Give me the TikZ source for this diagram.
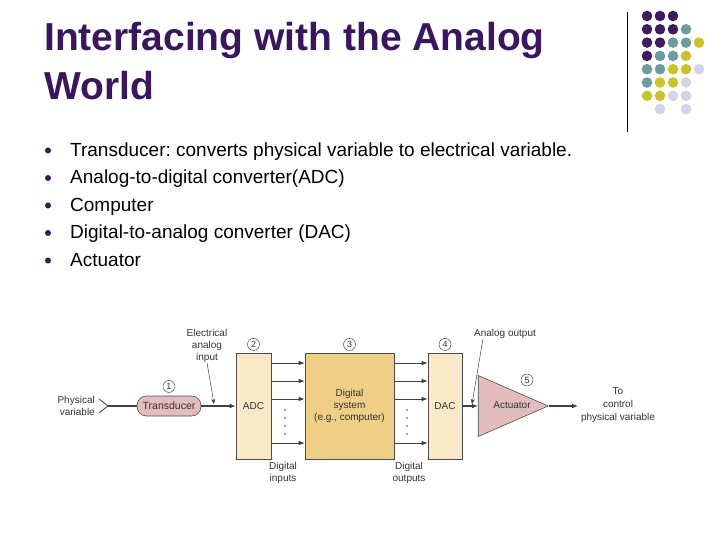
\documentclass[tikz,border=0pt]{standalone}
\usepackage{fontspec}
\setmainfont{Liberation Sans}
\usetikzlibrary{positioning, arrows.meta, shapes.geometric}
\frenchspacing

\definecolor{titlepurple}{HTML}{3A175C}
\definecolor{pinkfill}{HTML}{E3BDBD}
\definecolor{sysfill}{HTML}{EFCF86}
\definecolor{convfill}{HTML}{F8E9C9}
\definecolor{dotP}{HTML}{3F1B5F}
\definecolor{dotT}{HTML}{6E9B9E}
\definecolor{dotY}{HTML}{C8C52B}
\definecolor{dotL}{HTML}{D4D4E8}

\begin{document}
\begin{tikzpicture}[x=1pt, y=-1pt, node distance=2pt,
	title/.style={font=\fontsize{39}{39}\selectfont\bfseries, text=titlepurple, anchor=base west, inner sep=0pt},
	item/.style={font=\fontsize{19}{19}\selectfont, anchor=base west, inner sep=0pt},
	dtext/.style={font=\fontsize{10}{11.7}\selectfont, text=black!80, align=center, inner sep=0pt},
	box/.style={draw=black!70, line width=0.6pt, inner sep=0pt, minimum height=106pt, font=\fontsize{10}{12}\selectfont, text=black!80, align=center},
	pill/.style={draw=black!70, line width=0.6pt, fill=pinkfill, rounded corners=9.5pt, minimum width=64pt, minimum height=20pt, inner sep=0pt, font=\fontsize{10.5}{11}\selectfont, text=black!80},
	num/.style={circle, draw=black!70, line width=0.5pt, minimum size=12pt, inner sep=0pt, font=\fontsize{9}{9}\selectfont, text=black!80},
	sig/.style={line width=1.3pt, draw=black!75, -{Latex[length=6pt, width=5pt]}},
	bus/.style={line width=0.8pt, draw=black!75, -{Latex[length=6pt, width=4.5pt]}},
	note/.style={line width=0.5pt, draw=black!75, -{Stealth[length=5pt, width=4pt]}}
]
	\useasboundingbox (0,0) rectangle (720,540);

	% title and bullets
	\node[title] (title1) at (44,51) {Interfacing with the Analog};
	\node[title] (title2) at (44,100) {World};
	\foreach \txt [count=\i] in {Transducer: converts physical variable to electrical variable.,
		Analog-to-digital converter(ADC), Computer, Digital-to-analog converter (DAC), Actuator} {
		\node[item] (item\i) at (70,129+27.5*\i) {\txt};
		\fill[titlepurple] (48,123+27.5*\i) circle (3);
	}

	% corner decoration
	\draw[line width=0.8pt] (627,12) -- (627,132);
	\foreach \c/\r/\col in {0/0/dotP,1/0/dotP,2/0/dotP,
		0/1/dotP,1/1/dotP,2/1/dotP,3/1/dotT,
		0/2/dotP,1/2/dotP,2/2/dotT,3/2/dotT,4/2/dotY,
		0/3/dotP,1/3/dotT,2/3/dotT,3/3/dotY,
		0/4/dotT,1/4/dotT,2/4/dotY,3/4/dotY,4/4/dotL,
		0/5/dotT,1/5/dotY,2/5/dotY,3/5/dotL,
		0/6/dotY,1/6/dotY,2/6/dotL,3/6/dotL,
		1/7/dotL,3/7/dotL}
		\fill[\col] (647+13*\c,16+13.3*\r) circle (5.3);

	% blocks
	\node[pill] (trans) at (169,406) {Transducer};
	\node[box, fill=convfill, minimum width=35pt] (adc) at (253.5,406) {ADC};
	\node[box, fill=sysfill, minimum width=89pt] (sys) at (349.5,406) {Digital\\system\\(e.g., computer)};
	\node[box, fill=convfill, minimum width=34pt] (dac) at (445,406) {DAC};
	\node[isosceles triangle, isosceles triangle stretches, draw=black!70, line width=0.6pt, fill=pinkfill,
		minimum width=61pt, minimum height=70pt, inner sep=0pt, anchor=apex] (act) at (549,406) {};
	\node[dtext] (actlbl) at (512,405) {Actuator};

	% numbers
	\node[num, above=3pt of trans] (n1) {1};
	\node[num, above=2pt of adc] (n2) {2};
	\node[num, above=2pt of sys] (n3) {3};
	\node[num, above=2pt of dac] (n4) {4};
	\node[num] (n5) at (527,380) {5};

	% labels
	\node[dtext, align=right, anchor=east] (phys) at (95,406) {Physical\\variable};
	\node[dtext] (elec) at (207,346) {Electrical\\analog\\input};
	\node[dtext] (aout) at (505,334) {Analog output};
	\node[dtext] (din) at (283,473) {Digital\\inputs};
	\node[dtext] (dout) at (409,473) {Digital\\outputs};
	\node[dtext, font=\fontsize{10}{13.3}\selectfont] (tgt) at (618,405) {To\\control\\physical variable};

	\coordinate (pv) at (108,406);
	\coordinate (elecpt) at (214,404);
	\coordinate (aoutpt) at (472,404);
	\coordinate (ctl) at (578,406);

	% signal path
	\draw[line width=0.8pt, draw=black!75] (99,399) -- (pv) -- (99,413);
	\draw[line width=1.3pt, draw=black!75] (pv) -- (trans);
	\path
		(trans) edge [sig] (adc)
		(dac) edge [sig] (act)
		(act.apex) edge [sig] (ctl)
		(elec.south) edge [note] (elecpt)
		([xshift=9pt]aout.south west) edge [note] (aoutpt)
	;

	% buses
	\foreach \yy in {363,381,399,443} {
		\draw[bus] (adc.east |- 0,\yy) -- (sys.west |- 0,\yy);
		\draw[bus] (sys.east |- 0,\yy) -- (dac.west |- 0,\yy);
	}
	\foreach \yy in {410,418,426,434} {
		\fill[black!75] (285,\yy) circle (0.9);
		\fill[black!75] (407,\yy) circle (0.9);
	}
\end{tikzpicture}
\end{document}
